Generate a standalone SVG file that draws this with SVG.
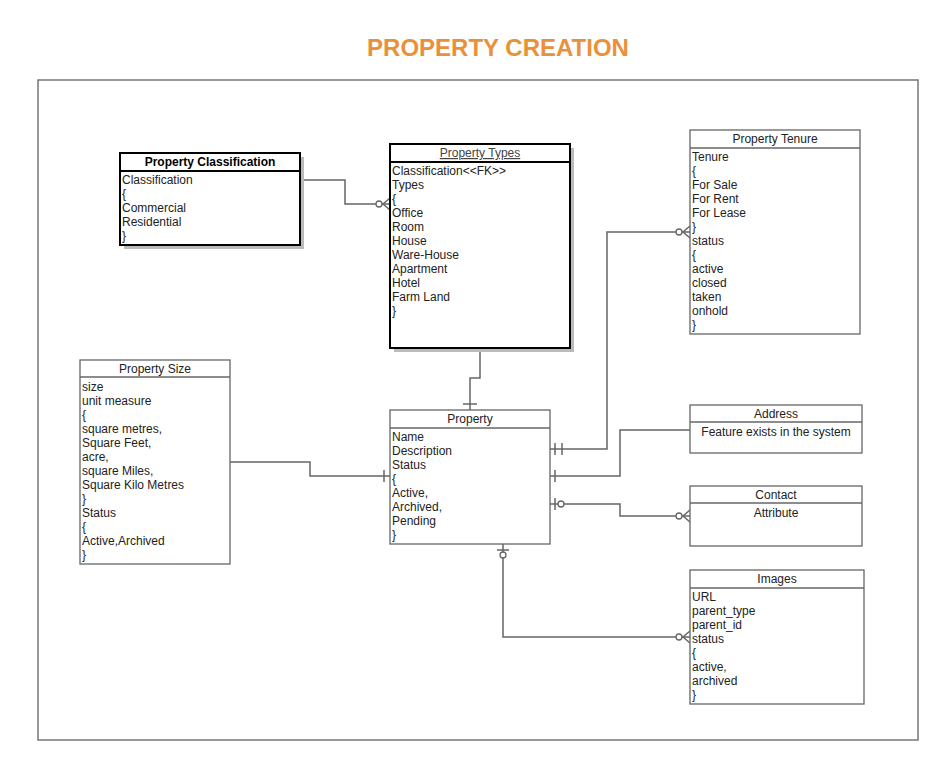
<svg xmlns="http://www.w3.org/2000/svg" width="938" height="760" viewBox="0 0 938 760">
<style>
text{font-family:"Liberation Sans",Arial,sans-serif;font-size:12px;fill:#222}
.t{text-anchor:middle}
.b{font-weight:bold;fill:#000}
.box{fill:#fff;stroke:#666;stroke-width:1.3}
.bold{fill:#fff;stroke:#000;stroke-width:2}
.sh{fill:#bbb}
.hl{stroke:#666;stroke-width:1.3}
.hlb{stroke:#000;stroke-width:2}
.c{fill:none;stroke:#666;stroke-width:1.5}
.o{fill:#fff;stroke:#666;stroke-width:1.3}
</style>
<rect width="938" height="760" fill="#fff"/>
<text x="498" y="56" class="t" style="font-size:24px;font-weight:bold;fill:#E8913A">PROPERTY CREATION</text>
<rect x="38" y="80" width="880" height="660" fill="none" stroke="#777" stroke-width="1.5"/>

<g id="connectors">
  <!-- Classification -> Types -->
  <path class="c" d="M300 180 H345 V204 H390"/>
  <circle class="o" cx="379" cy="204" r="3"/>
  <path class="c" d="M390 198 L383 204 L390 210"/>
  <!-- Types -> Property -->
  <path class="c" d="M480 348 V378 H470 V410"/>
  <path class="c" d="M463 404 H477"/>
  <!-- Property -> Tenure -->
  <path class="c" d="M550 449 H607 V232 H690"/>
  <path class="c" d="M555 443 V455 M562 443 V455"/>
  <circle class="o" cx="679" cy="232" r="3"/>
  <path class="c" d="M690 226 L683 232 L690 238"/>
  <!-- Property -> Address -->
  <path class="c" d="M550 476 H620 V430 H690"/>
  <path class="c" d="M555 470 V482"/>
  <!-- Property -> Contact -->
  <path class="c" d="M550 504 H620 V516 H690"/>
  <path class="c" d="M555 498 V510"/>
  <circle class="o" cx="561" cy="504" r="3"/>
  <circle class="o" cx="679" cy="516" r="3"/>
  <path class="c" d="M690 510 L683 516 L690 522"/>
  <!-- Property -> Images -->
  <path class="c" d="M503 544 V637 H690"/>
  <path class="c" d="M497 550 H509"/>
  <circle class="o" cx="503" cy="555" r="3"/>
  <circle class="o" cx="679" cy="637" r="3"/>
  <path class="c" d="M690 631 L683 637 L690 643"/>
  <!-- Size -> Property -->
  <path class="c" d="M230 462 H310 V476 H390"/>
  <path class="c" d="M384 470 V482"/>
</g>

<g id="property-classification">
  <rect class="sh" x="124" y="157" width="180" height="92"/>
  <rect class="bold" x="120" y="153" width="180" height="92"/>
  <line class="hlb" x1="120" y1="171" x2="300" y2="171"/>
  <text x="210" y="166" class="t b">Property Classification</text>
  <text x="122" y="184">Classification</text>
  <text x="122" y="198">{</text>
  <text x="122" y="212">Commercial</text>
  <text x="122" y="226">Residential</text>
  <text x="122" y="240">}</text>
</g>

<g id="property-types">
  <rect class="sh" x="394" y="148" width="180" height="204"/>
  <rect class="bold" x="390" y="144" width="180" height="204"/>
  <line class="hlb" x1="390" y1="162" x2="570" y2="162"/>
  <text x="480" y="157" class="t" style="fill:#444;text-decoration:underline">Property Types</text>
  <text x="392" y="175">Classification&lt;&lt;FK&gt;&gt;</text>
  <text x="392" y="189">Types</text>
  <text x="392" y="203">{</text>
  <text x="392" y="217">Office</text>
  <text x="392" y="231">Room</text>
  <text x="392" y="245">House</text>
  <text x="392" y="259">Ware-House</text>
  <text x="392" y="273">Apartment</text>
  <text x="392" y="287">Hotel</text>
  <text x="392" y="301">Farm Land</text>
  <text x="392" y="315">}</text>
</g>

<g id="property-tenure">
  <rect class="box" x="690" y="130" width="170" height="204"/>
  <line class="hl" x1="690" y1="148" x2="860" y2="148"/>
  <text x="775" y="143" class="t">Property Tenure</text>
  <text x="692" y="161">Tenure</text>
  <text x="692" y="175">{</text>
  <text x="692" y="189">For Sale</text>
  <text x="692" y="203">For Rent</text>
  <text x="692" y="217">For Lease</text>
  <text x="692" y="231">}</text>
  <text x="692" y="245">status</text>
  <text x="692" y="259">{</text>
  <text x="692" y="273">active</text>
  <text x="692" y="287">closed</text>
  <text x="692" y="301">taken</text>
  <text x="692" y="315">onhold</text>
  <text x="692" y="329">}</text>
</g>

<g id="property-size">
  <rect class="box" x="80" y="360" width="150" height="204"/>
  <line class="hl" x1="80" y1="377" x2="230" y2="377"/>
  <text x="155" y="373" class="t">Property Size</text>
  <text x="82" y="391">size</text>
  <text x="82" y="405">unit measure</text>
  <text x="82" y="419">{</text>
  <text x="82" y="433">square metres,</text>
  <text x="82" y="447">Square Feet,</text>
  <text x="82" y="461">acre,</text>
  <text x="82" y="475">square Miles,</text>
  <text x="82" y="489">Square Kilo Metres</text>
  <text x="82" y="503">}</text>
  <text x="82" y="517">Status</text>
  <text x="82" y="531">{</text>
  <text x="82" y="545">Active,Archived</text>
  <text x="82" y="559">}</text>
</g>

<g id="property">
  <rect class="box" x="390" y="410" width="160" height="134"/>
  <line class="hl" x1="390" y1="428" x2="550" y2="428"/>
  <text x="470" y="423" class="t">Property</text>
  <text x="392" y="441">Name</text>
  <text x="392" y="455">Description</text>
  <text x="392" y="469">Status</text>
  <text x="392" y="483">{</text>
  <text x="392" y="497">Active,</text>
  <text x="392" y="511">Archived,</text>
  <text x="392" y="525">Pending</text>
  <text x="392" y="539">}</text>
</g>

<g id="address">
  <rect class="box" x="690" y="405" width="172" height="48"/>
  <line class="hl" x1="690" y1="422" x2="862" y2="422"/>
  <text x="776" y="418" class="t">Address</text>
  <text x="776" y="436" class="t">Feature exists in the system</text>
</g>

<g id="contact">
  <rect class="box" x="690" y="486" width="172" height="60"/>
  <line class="hl" x1="690" y1="503" x2="862" y2="503"/>
  <text x="776" y="499" class="t">Contact</text>
  <text x="776" y="517" class="t">Attribute</text>
</g>

<g id="images">
  <rect class="box" x="690" y="570" width="174" height="134"/>
  <line class="hl" x1="690" y1="588" x2="864" y2="588"/>
  <text x="777" y="583" class="t">Images</text>
  <text x="692" y="601">URL</text>
  <text x="692" y="615">parent_type</text>
  <text x="692" y="629">parent_id</text>
  <text x="692" y="643">status</text>
  <text x="692" y="657">{</text>
  <text x="692" y="671">active,</text>
  <text x="692" y="685">archived</text>
  <text x="692" y="699">}</text>
</g>
</svg>
